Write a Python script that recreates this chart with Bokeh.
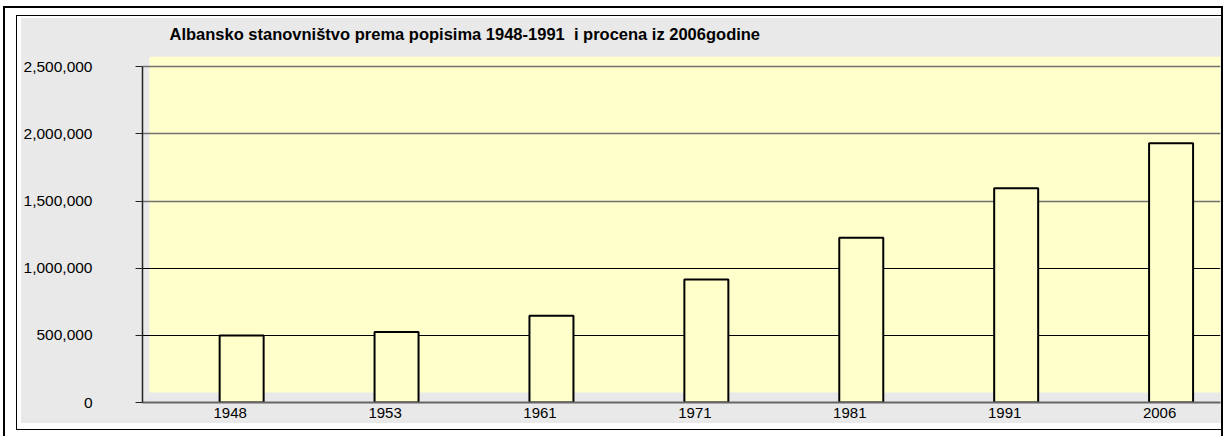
from bokeh.plotting import figure
from bokeh.models import (ColumnDataSource, Range1d, FixedTicker, SingleIntervalTicker,
                          NumeralTickFormatter, BoxAnnotation, Node, Grid)
from bokeh.transform import dodge
from bokeh.embed import file_html
from bokeh.resources import INLINE

# ---- data ----
years = ["1948", "1953", "1961", "1971", "1981", "1991", "2006"]
population = [498242, 524559, 646605, 916168, 1226736, 1596072, 1930000]
y_tick_step = 500_000
y_tick_max = 2_500_000
title_text = "Albansko stanovništvo prema popisima 1948-1991\u00a0 i procena iz 2006godine"

idx = list(range(len(years)))
src = ColumnDataSource(dict(idx=idx, year=years, pop=population))

FONT = "Liberation Sans"
YELLOW = "#FFFFCC"
TEXTURE = "#E9E9E9"

p = figure(width=1224, height=436, output_backend="svg", toolbar_location=None,
           x_range=Range1d(-0.566, len(years) - 0.607),
           y_range=Range1d(0, y_tick_max * 1.0307),
           min_border_left=142, min_border_right=4, min_border_top=56, min_border_bottom=34,
           border_fill_color=None, background_fill_color=None,
           outline_line_color=None, title=title_text)

# page frame: white paper, double border, grey textured chart area (CSS background layers)
layers = [
    ("black", 3, 6, 2, 430),      # outer left line
    ("black", 3, 6, 1220, 2),     # outer top line
    ("black", 1221, 6, 2, 430),   # outer right line
    ("black", 16, 15, 1, 415),    # inner left line
    ("black", 16, 15, 1206, 1),   # inner top line
    ("black", 16, 429, 1206, 1),  # inner bottom line
    (TEXTURE, 21, 18, 1200, 405), # chart area
]
p.styles = {
    "background-color": "white",
    "background-image": ", ".join(f"linear-gradient({c}, {c})" for c, *_ in layers),
    "background-position": ", ".join(f"{x}px {y}px" for _, x, y, w, h in layers),
    "background-size": ", ".join(f"{w}px {h}px" for _, x, y, w, h in layers),
    "background-repeat": "no-repeat",
}

p.title.text_font = FONT
p.title.text_font_size = "16.5px"
p.title.text_font_style = "bold"
p.title.text_color = "black"
p.title.align = "left"
p.title.offset = 27
p.title.standoff = 28

# 3D back wall
p.add_layout(BoxAnnotation(
    left=Node(target="frame", symbol="left", offset=7),
    right=Node(target="frame", symbol="right", offset=0),
    top=Node(target="frame", symbol="top", offset=0),
    bottom=Node(target="frame", symbol="bottom", offset=-10),
    fill_color=YELLOW, fill_alpha=1, line_alpha=0, level="image"))

# grids
p.xgrid.visible = False
all_ticks = list(range(y_tick_step, y_tick_max + 1, y_tick_step))
upper = [v for v in all_ticks if v >= 1_500_000]
lower = [v for v in all_ticks if v < 1_500_000]
p.ygrid.ticker = FixedTicker(ticks=upper)
p.ygrid.grid_line_color = "#707070"
p.ygrid.grid_line_width = 1.5
p.add_layout(Grid(dimension=1, ticker=FixedTicker(ticks=lower),
                  grid_line_color="black", grid_line_width=1))

# bars
p.vbar(x=dodge("idx", 0.074), top="pop", bottom=0, width=0.284, source=src,
       fill_color=YELLOW, line_color="black", line_width=2)

# y axis
ya = p.yaxis[0]
ya.ticker = SingleIntervalTicker(interval=y_tick_step, num_minor_ticks=0)
ya.formatter = NumeralTickFormatter(format="0,0")
ya.bounds = (0, y_tick_max)
ya.axis_line_color = "#222222"
ya.axis_line_width = 1.5
ya.major_tick_out = 7
ya.major_tick_in = 0
ya.major_tick_line_color = "#222222"
ya.minor_tick_out = 0
ya.minor_tick_in = 0
ya.major_label_standoff = 43
ya.major_label_text_font = FONT
ya.major_label_text_font_size = "15.5px"
ya.major_label_text_color = "black"

# x axis
xa = p.xaxis[0]
xa.ticker = FixedTicker(ticks=idx)
xa.major_label_overrides = {i: y for i, y in zip(idx, years)}
xa.axis_line_color = "#666666"
xa.axis_line_width = 2
xa.major_tick_out = 0
xa.major_tick_in = 0
xa.minor_tick_out = 0
xa.minor_tick_in = 0
xa.major_label_standoff = 5
xa.major_label_text_font = FONT
xa.major_label_text_font_size = "15px"
xa.major_label_text_color = "black"

open("out.html", "w").write(file_html(p, INLINE))
